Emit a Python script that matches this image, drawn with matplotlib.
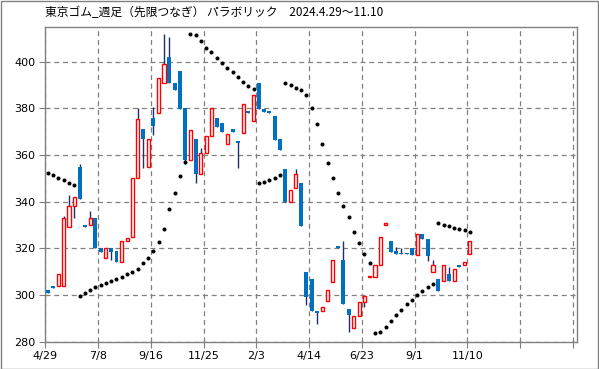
import matplotlib
matplotlib.use('Agg')
import matplotlib.pyplot as plt
from matplotlib.patches import Rectangle

# 週足データ (始値, 高値, 安値, 終値)
opens = [302, 304, 304, 304, 329, 338, 355, 330, 330, 333,
         320, 316, 320, 319, 314, 323, 325, 350, 371, 355,
         376, 378, 391, 402, 391, 396, 380, 358, 367, 352,
         361, 368, 376, 373.5, 364.5, 371, 366, 369.5, 379, 374.6,
         391, 379.5, 379, 376.7, 367, 354, 340, 345.7, 348, 310,
         307, 293, 293, 297.6, 305.7, 321, 315, 294, 285.7, 291,
         297, 307.6, 307.8, 312.7, 329.8, 323, 318.7, 318, 318, 320,
         317, 326, 324, 309.7, 306.7, 306, 309, 306, 312.8, 312.7,
         317.7]
highs = [302, 304, 309, 334, 343, 342, 356, 330, 336, 333,
         320, 320, 320, 319, 323, 324.5, 350, 380, 371, 367,
         380.5, 393, 412, 410.5, 391, 396, 380, 370.5, 367, 363,
         368, 380, 376, 373.5, 369, 371, 366, 382, 379, 385.5,
         391, 379.5, 379, 376.7, 367, 354, 345, 354, 348, 310,
         307, 293, 295, 302, 315, 321, 323, 294, 291, 297,
         299.7, 308, 312.7, 324.7, 330.7, 323, 320.7, 320, 318, 320,
         326, 326, 324, 315, 306.7, 312.7, 312, 311, 312.8, 314.1,
         323.3]
lows = [301, 303, 304, 304, 329, 333, 341, 329, 330, 320,
        318.5, 316, 315, 314, 314, 323, 325, 350, 354.5, 355,
        368.5, 378, 391, 391, 388, 379.5, 356, 358, 348, 352,
        361, 368, 372, 370, 364.5, 370, 354.5, 369.5, 378, 374.6,
        379.5, 378.5, 378, 366.5, 362, 340, 340, 345.7, 329.7, 295.7,
        293, 287.6, 293, 297.6, 305.7, 320.3, 296, 284, 285.7, 291,
        294.7, 307.6, 307.8, 312.7, 329.8, 318.5, 317.7, 317.4, 317.4, 317,
        317, 324, 314.7, 309.7, 301.8, 306, 306, 306, 312.1, 312.7,
        317.7]
closes = [301, 303, 309, 333, 338, 342, 341, 329, 333, 320,
          318.5, 320, 318.5, 314, 323, 324.5, 350, 375.5, 367, 367,
          372.5, 393, 399, 391, 388, 379.5, 358, 370.5, 352, 361,
          368, 380, 372, 370, 369, 370, 365, 382, 378, 385.5,
          379.5, 378.5, 378, 366.5, 362, 340, 345, 351.7, 329.7, 299,
          293, 292.4, 295, 302, 315, 320.3, 296, 291.4, 291, 297,
          299.7, 308, 312.7, 324.7, 330.7, 318.5, 317.7, 317.4, 317.4, 317,
          326, 324, 316.7, 312.7, 301.8, 312.7, 306, 311, 312.1, 314.1,
          323.3]

# パラボリック SAR
sar = [352.1, 351.3, 350.2, 349.1, 348, 347.1, 299.7, 300.7, 302, 303.3,
       304.1, 305, 306, 307, 307.8, 309.1, 310, 311, 313.6, 316,
       318.7, 322.6, 328.1, 336.7, 343.9, 350.9, 356.8, 412, 411.2, 408.6,
       406, 403.9, 401.5, 399.3, 397.1, 395.4, 393.2, 391.3, 389.6, 388.1,
       347.8, 348.5, 349.4, 350.2, 351.3, 390.7, 389.8, 388.5, 387.7, 385.5,
       380, 373.1, 364.5, 356.7, 350, 343.6, 338.1, 333.3, 327.1, 322.1,
       317.4, 313.6, 283.9, 284.3, 286.2, 288.7, 291.3, 293.4, 296.1, 297.7,
       299.9, 301.6, 303.3, 304.8, 330.7, 330.1, 329.7, 328.8, 328.4, 327.8,
       327.1]

date_labels = ['4/29', '7/8', '9/16', '11/25', '2/3', '4/14', '6/23', '9/1', '11/10', '', '']
y_ticks = [280, 300, 320, 340, 360, 380, 400]

fig = plt.figure(figsize=(5.99, 3.69), dpi=100)
ax = fig.add_axes([0.0756, 0.074, 0.8877, 0.8528])

xs = [i + 0.5 for i in range(len(opens))]
up_x, up_b, up_h = [], [], []
dn_x, dn_b, dn_h = [], [], []
for x, o, c in zip(xs, opens, closes):
    if c >= o:
        up_x.append(x); up_b.append(o); up_h.append(c - o)
    else:
        dn_x.append(x); dn_b.append(c); dn_h.append(o - c)

ax.vlines(xs, lows, highs, color='#1f2f6b', lw=1.0, zorder=2)
ax.bar(dn_x, dn_h, bottom=dn_b, width=0.75, color='#0070c0', zorder=3)
ax.bar(up_x, up_h, bottom=up_b, width=0.58, facecolor='white',
       edgecolor='#ff0000', lw=1.0, zorder=3)
ax.plot(xs, sar, linestyle='none', marker='o', ms=1.9, color='black', zorder=4)

ax.set_xlim(0, 100.8)
ax.set_ylim(280, 414.8)
ax.set_xticks(range(0, 101, 10))
ax.set_xticklabels(date_labels)
ax.set_yticks(y_ticks)
ax.grid(True, color='#808080', linestyle=(0, (4, 3)), lw=0.9)
ax.set_axisbelow(True)
for s in ax.spines.values():
    s.set_color('#808080')
    s.set_linewidth(1.0)
ax.tick_params(direction='out', length=4, color='#808080', labelsize=8, pad=3)

fig.text(0.075, 0.965, '東京ゴム_週足（先限つなぎ） パラボリック　2024.4.29〜11.10',
         family=['Noto Sans CJK JP', 'DejaVu Sans'], fontsize=8.5, va='center', ha='left')
fig.add_artist(Rectangle((0.001, 0.001), 0.997, 0.996, transform=fig.transFigure,
                         fill=False, edgecolor='#808080', lw=1.0))

fig.savefig('out.png', dpi=100)
